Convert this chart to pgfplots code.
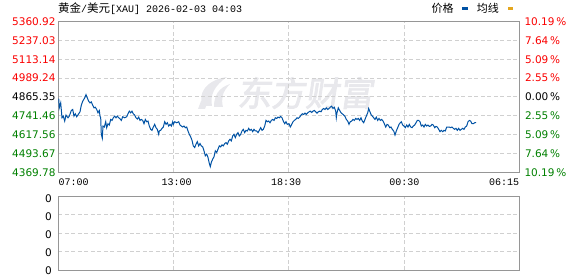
\documentclass[border=0pt]{standalone}
\usepackage{fontspec}
\setmainfont{DejaVu Sans}
\setmonofont{Liberation Mono}
\newfontfamily\cjk{Noto Sans CJK SC}
\newfontfamily\cjkfb[FakeBold=2.5]{Noto Sans CJK SC}
\usepackage{pgfplots}
\pgfplotsset{compat=1.18}
\definecolor{pred}{RGB}{250,0,0}
\definecolor{pgreen}{RGB}{0,128,0}
\definecolor{pblue}{RGB}{0,82,164}
\definecolor{porange}{RGB}{228,166,30}
\definecolor{bordergray}{RGB}{150,150,150}
\definecolor{gridgray}{RGB}{208,208,208}
\definecolor{wm}{RGB}{232,232,236}
\begin{document}
\begin{tikzpicture}
\useasboundingbox (0,0) rectangle (578pt,276pt);
% watermark
\fill[wm] (203pt,170pt) .. controls (197pt,182pt) and (206pt,196pt) .. (227pt,199pt) .. controls (214pt,190pt) and (210pt,181pt) .. (212pt,170pt) -- cycle;
\fill[wm] (214pt,169pt) .. controls (214pt,180pt) and (218pt,188pt) .. (230pt,192pt) .. controls (222pt,184pt) and (221pt,177pt) .. (223pt,169pt) -- cycle;
\fill[wm] (198pt,167pt) -- (205pt,167pt) -- (208pt,175pt) -- (201pt,175pt) -- cycle;
\node[text=wm, font=\cjkfb\fontsize{34}{34}\selectfont, xslant=0.15, transform shape, anchor=west, inner sep=0pt] at (239pt,183pt) {东方财富};
\begin{axis}[
  at={(58.3pt,254.5pt)}, anchor=north west,
  width=461pt, height=150.8pt, scale only axis,
  xmin=0, xmax=461, ymin=4369.78, ymax=5360.92,
  xtick={115.25,230.5,345.75}, xticklabels={},
  ytick={4493.67,4617.56,4741.46,4865.35,4989.24,5113.14,5237.03},
  yticklabels={},
  major tick length=0pt,
  grid=major,
  major grid style={gridgray, line width=0.8pt, dash pattern=on 4pt off 2.5pt},
  axis line style={bordergray, line width=1pt},
]
\addplot[pblue, line width=1pt, mark=none] coordinates {
(0.4,4854.3)(1.0,4793.4)(2.4,4826.0)(3.7,4728.2)(5.0,4739.1)(6.4,4706.5)(7.7,4745.6)(9.7,4728.2)
(11.0,4739.1)(13.0,4776.0)(14.4,4782.5)(15.7,4739.1)(17.0,4754.3)(18.4,4734.7)(20.4,4754.3)(21.7,4767.3)
(23.0,4810.8)(24.4,4836.9)(26.4,4858.6)(27.7,4880.3)(29.0,4858.6)(30.4,4836.9)(31.7,4826.0)(33.0,4832.6)
(34.4,4810.8)(35.7,4793.4)(37.0,4797.8)(38.4,4782.5)(39.7,4760.8)(41.0,4776.0)(41.7,4739.1)(42.4,4728.2)
(43.0,4619.6)(44.0,4593.5)(44.7,4673.9)(46.0,4667.4)(47.4,4702.1)(48.4,4663.0)(49.7,4689.1)(51.0,4680.4)
(52.4,4717.4)(53.7,4710.8)(55.0,4728.2)(56.4,4739.1)(57.7,4728.2)(59.0,4739.1)(60.4,4728.2)(61.7,4721.7)
(63.0,4710.8)(64.4,4734.7)(66.4,4728.2)(68.4,4734.7)(69.7,4754.3)(71.0,4771.7)(72.4,4760.8)(73.7,4771.7)
(75.0,4754.3)(76.4,4745.6)(77.7,4728.2)(79.0,4719.5)(80.4,4732.6)(81.7,4710.8)(83.0,4717.4)(84.4,4710.8)
(85.7,4689.1)(87.0,4717.4)(88.4,4702.1)(89.7,4706.5)(91.0,4673.9)(92.4,4652.1)(93.7,4645.6)(95.0,4667.4)
(96.4,4684.8)(97.7,4663.0)(99.0,4652.1)(100.4,4619.6)(101.0,4641.3)(102.4,4645.6)(103.7,4658.7)(105.0,4667.4)
(106.4,4702.1)(107.7,4684.8)(109.0,4695.6)(110.4,4673.9)(111.7,4684.8)(113.0,4673.9)(114.4,4702.1)
(115.0,4684.8)(116.4,4702.1)(118.4,4695.6)(120.4,4702.1)(121.7,4680.4)(123.0,4673.9)(124.4,4667.4)(125.7,4673.9)
(127.0,4663.0)(128.4,4667.4)(129.7,4641.3)(131.0,4619.6)(132.4,4602.2)(133.7,4580.4)(135.0,4543.5)(136.4,4532.6)
(137.7,4554.3)(139.0,4571.7)(140.4,4543.5)(141.7,4558.7)(143.0,4543.5)(144.4,4537.0)(145.7,4510.9)(147.0,4478.3)
(148.4,4489.2)(149.7,4467.4)(151.0,4428.3)(152.0,4406.6)(153.0,4434.8)(154.4,4456.5)(155.7,4471.7)(157.0,4510.9)
(158.4,4500.0)(159.7,4521.7)(161.0,4543.5)(162.4,4537.0)(163.7,4550.0)(165.0,4543.5)(166.4,4558.7)(167.7,4565.2)
(169.0,4554.3)(170.4,4576.1)(171.7,4586.9)(173.0,4576.1)(174.4,4608.7)(175.7,4619.6)(177.0,4597.8)(178.4,4619.6)
(179.7,4630.4)(181.0,4608.7)(182.4,4619.6)(183.7,4641.3)(185.0,4652.1)(186.4,4630.4)(187.7,4645.6)(189.0,4641.3)
(190.4,4658.7)(191.7,4645.6)(193.0,4652.1)(194.4,4636.9)(195.7,4652.1)(197.0,4641.3)(198.4,4641.3)(199.7,4630.4)
(201.0,4645.6)(202.4,4663.0)(203.7,4645.6)(205.0,4652.1)(206.4,4673.9)(207.7,4710.8)(209.0,4702.1)(210.4,4706.5)
(211.7,4695.6)(213.0,4710.8)(214.4,4717.4)(215.7,4710.8)(217.0,4728.2)(218.4,4723.9)(219.7,4732.6)(221.0,4728.2)
(222.4,4736.9)(223.7,4728.2)(225.0,4706.5)(226.4,4689.1)(227.7,4702.1)(229.0,4684.8)
(230.7,4689.1)(232.0,4667.4)(233.4,4684.8)(234.7,4702.1)(236.0,4710.8)(237.4,4717.4)(238.7,4728.2)(240.0,4723.9)
(241.4,4732.6)(242.7,4745.6)(244.0,4754.3)(245.4,4749.9)(246.7,4758.6)(248.0,4749.9)(249.4,4760.8)(250.7,4767.3)
(252.0,4771.7)(253.4,4762.9)(254.7,4771.7)(256.0,4776.0)(257.4,4767.3)(258.7,4758.6)(260.0,4767.3)(261.4,4771.7)
(262.7,4767.3)(264.0,4782.5)(265.4,4789.1)(266.7,4782.5)(268.0,4793.4)(269.4,4782.5)(270.7,4789.1)(272.0,4797.8)
(273.4,4804.3)(274.7,4789.1)(276.0,4797.8)(277.4,4771.7)(278.0,4728.2)(278.7,4760.8)(280.0,4793.4)(281.4,4776.0)
(282.7,4760.8)(284.0,4754.3)(285.4,4745.6)(286.7,4736.9)(288.0,4717.4)(289.4,4706.5)(290.7,4684.8)(292.0,4702.1)
(293.4,4706.5)(294.7,4717.4)(296.0,4710.8)(297.4,4723.9)(298.7,4717.4)(300.0,4723.9)(301.4,4710.8)(302.7,4728.2)
(304.0,4706.5)(305.4,4695.6)(306.7,4717.4)(308.0,4739.1)(309.4,4760.8)(310.4,4789.1)(311.4,4771.7)(312.7,4749.9)
(314.0,4739.1)(315.4,4728.2)(316.7,4717.4)(318.0,4732.6)(319.4,4710.8)(320.7,4723.9)(322.0,4710.8)(323.4,4717.4)
(324.7,4706.5)(326.0,4689.1)(327.4,4667.4)(328.7,4684.8)(330.0,4680.4)(331.4,4663.0)(332.7,4667.4)(334.0,4652.1)
(335.4,4641.3)(336.7,4615.2)(338.0,4641.3)(339.4,4663.0)(340.7,4684.8)(342.0,4695.6)
(343.0,4702.1)(344.4,4680.4)(345.7,4673.9)(347.0,4663.0)(348.4,4680.4)(349.7,4667.4)(351.0,4684.8)(352.4,4667.4)
(353.7,4663.0)(355.0,4673.9)(356.4,4680.4)(357.7,4695.6)(359.0,4710.8)(360.4,4710.8)(361.7,4702.1)(363.0,4673.9)
(364.4,4680.4)(365.7,4667.4)(367.0,4684.8)(368.4,4673.9)(369.7,4680.4)(371.0,4671.7)(372.4,4673.9)(373.7,4684.8)
(375.0,4680.4)(376.4,4663.0)(377.7,4671.7)(379.0,4667.4)(380.4,4652.1)(381.7,4636.9)(383.0,4645.6)(384.4,4636.9)
(385.7,4645.6)(387.0,4641.3)(388.4,4667.4)(389.7,4667.4)(391.0,4667.4)(392.4,4663.0)(393.7,4667.4)(395.0,4658.7)
(396.4,4652.1)(397.7,4658.7)(399.0,4645.6)(400.4,4658.7)(401.7,4645.6)(403.0,4652.1)(404.4,4658.7)(405.7,4652.1)
(407.0,4667.4)(408.4,4673.9)(409.7,4702.1)(411.0,4710.8)(412.4,4706.5)(413.7,4689.1)(415.0,4689.1)(416.4,4695.6)
(417.7,4695.6)
};
\end{axis}
\begin{axis}[
  at={(58.3pt,80pt)}, anchor=north west,
  width=461pt, height=74pt, scale only axis,
  xmin=0, xmax=461, ymin=0, ymax=4,
  xtick={115.25,230.5,345.75}, xticklabels={},
  ytick={1,2,3}, yticklabels={},
  major tick length=0pt,
  grid=major,
  major grid style={gridgray, line width=0.8pt, dash pattern=on 4pt off 2.5pt},
  axis line style={bordergray, line width=1pt},
]
\end{axis}
% left price labels
\begin{scope}[every node/.style={anchor=east, inner sep=0pt, font=\fontsize{10.5}{12}\selectfont}]
\node[text=pred] at (55.8pt,254.5pt) {5360.92};
\node[text=pred] at (55.8pt,235.65pt) {5237.03};
\node[text=pred] at (55.8pt,216.8pt) {5113.14};
\node[text=pred] at (55.8pt,197.95pt) {4989.24};
\node[text=black] at (55.8pt,179.1pt) {4865.35};
\node[text=pgreen] at (55.8pt,160.25pt) {4741.46};
\node[text=pgreen] at (55.8pt,141.4pt) {4617.56};
\node[text=pgreen] at (55.8pt,122.55pt) {4493.67};
\node[text=pgreen] at (55.8pt,103.7pt) {4369.78};
\end{scope}
% right percentage labels
\begin{scope}[every node/.style={anchor=west, inner sep=0pt, font=\fontsize{10.5}{12}\selectfont}]
\node[text=pred] at (524.3pt,254.5pt) {10.19\,\%};
\node[text=pred] at (524.8pt,235.65pt) {7.64\,\%};
\node[text=pred] at (524.8pt,216.8pt) {5.09\,\%};
\node[text=pred] at (524.8pt,197.95pt) {2.55\,\%};
\node[text=black] at (524.8pt,179.1pt) {0.00\,\%};
\node[text=pgreen] at (524.8pt,160.25pt) {2.55\,\%};
\node[text=pgreen] at (524.8pt,141.4pt) {5.09\,\%};
\node[text=pgreen] at (524.8pt,122.55pt) {7.64\,\%};
\node[text=pgreen] at (524.3pt,103.7pt) {10.19\,\%};
\end{scope}
% lower panel labels
\begin{scope}[every node/.style={anchor=east, inner sep=0pt, font=\fontsize{10.5}{12}\selectfont, text=black}]
\node at (52pt,77.7pt) {0};
\node at (52pt,59.3pt) {0};
\node at (52pt,41pt) {0};
\node at (52pt,23.3pt) {0};
\node at (52pt,5.7pt) {0};
\end{scope}
% time labels
\begin{scope}[every node/.style={inner sep=0pt, font=\ttfamily\fontsize{10}{12}\selectfont}]
\node[anchor=west] at (58.3pt,93.3pt) {07:00};
\node at (176.7pt,93.3pt) {13:00};
\node at (286pt,93.3pt) {18:30};
\node at (404.3pt,93.3pt) {00:30};
\node[anchor=east] at (519.3pt,93.3pt) {06:15};
\end{scope}
% title
\node[anchor=west, inner sep=0pt] at (58pt,267.5pt) {{\cjk\fontsize{11.5}{12}\selectfont 黄金}{\ttfamily\fontsize{10}{12}\selectfont /}{\cjk\fontsize{11.5}{12}\selectfont 美元}{\ttfamily\fontsize{10}{12}\selectfont [XAU] 2026-02-03 04:03}};
% legend
\node[anchor=west, inner sep=0pt, font=\cjk\fontsize{11}{12}\selectfont] at (431.5pt,267.3pt) {价格};
\fill[pblue] (462pt,265.5pt) rectangle (467.5pt,268.5pt);
\node[anchor=west, inner sep=0pt, font=\cjk\fontsize{11}{12}\selectfont] at (476.7pt,267.3pt) {均线};
\fill[porange] (507.7pt,265.5pt) rectangle (513.3pt,268.5pt);
\end{tikzpicture}
\end{document}
